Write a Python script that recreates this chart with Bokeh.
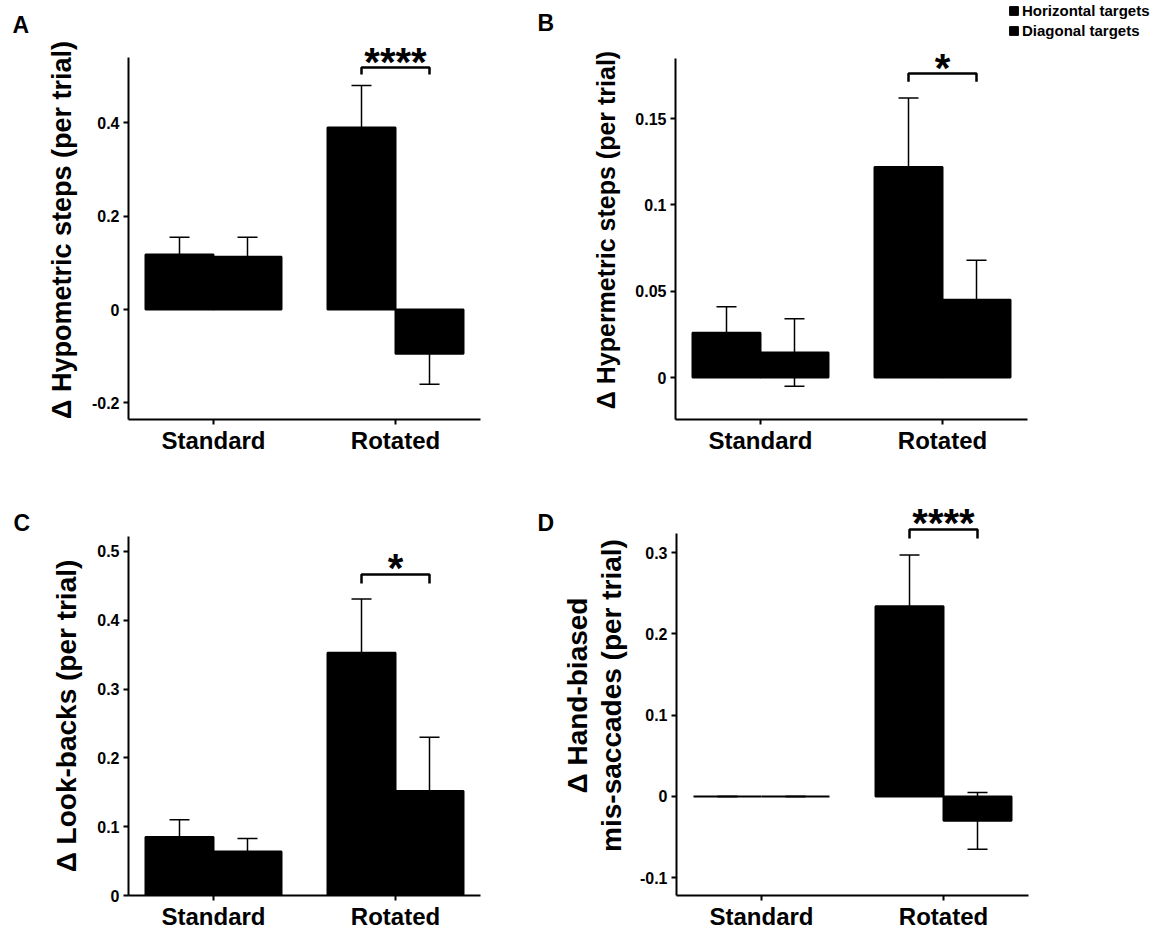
from bokeh.plotting import figure
from bokeh.models import (ColumnDataSource, Whisker, TeeHead, FixedTicker,
                          CustomJSTickFormatter, Legend, LegendItem, Range1d)
from bokeh.layouts import column, row
from bokeh.embed import file_html
from bokeh.resources import INLINE
from bokeh.core.properties import value

# ---------------- data ----------------
conditions = ["Standard", "Rotated"]
series = ["Horizontal targets", "Diagonal targets"]

hypo_h = [0.118, 0.390]
hypo_h_err = [0.037, 0.090]
hypo_d = [0.113, -0.095]
hypo_d_err = [0.042, 0.065]

hyper_h = [0.026, 0.122]
hyper_h_err = [0.015, 0.040]
hyper_d = [0.0145, 0.045]
hyper_d_err = [0.0195, 0.023]

look_h = [0.085, 0.353]
look_h_err = [0.025, 0.078]
look_d = [0.064, 0.152]
look_d_err = [0.019, 0.078]

hand_h = [0.0, 0.234]
hand_h_err = [0.0, 0.063]
hand_d = [0.0, -0.030]
hand_d_err = [0.0, 0.035]

ticks_a = [-0.2, 0, 0.2, 0.4]
ticks_b = [0, 0.05, 0.1, 0.15]
ticks_c = [0, 0.1, 0.2, 0.3, 0.4, 0.5]
ticks_d = [-0.1, 0, 0.1, 0.2, 0.3]

panel_letters = ["A", "B", "C", "D"]
y_labels = ["\u0394 Hypometric steps (per trial)",
            "\u0394 Hypermetric steps (per trial)",
            "\u0394 Look-backs (per trial)",
            "\u0394 Hand-biased\nmis-saccades (per trial)"]
sig_labels = ["****", "*", "*", "****"]

FONT = "Liberation Sans"
BAR_W = 0.3736
H_COLOR = "#000000"
D_COLOR = "#000000"
NAN = float("nan")


def no_align(p):
    try:
        p.frame_align = False
    except Exception:
        pass


def strip(width, height):
    s = figure(width=width, height=height, output_backend="svg", toolbar_location=None,
               x_range=Range1d(0, width), y_range=Range1d(height, 0),
               x_axis_type=None, y_axis_type=None,
               min_border_left=0, min_border_right=0, min_border_top=0, min_border_bottom=0)
    s.outline_line_color = None
    s.xgrid.visible = False
    s.ygrid.visible = False
    no_align(s)
    return s


def make_panel(ylabel, h, herr, d, derr, yticks, sig, lay):
    p = figure(width=lay["w"], height=lay["h"], output_backend="svg",
               toolbar_location=None, x_range=Range1d(-0.467, 1.467),
               y_range=Range1d(lay["y0"], lay["y1"]),
               min_border_left=lay["bl"], min_border_right=lay["br"],
               min_border_top=lay["bt"], min_border_bottom=lay["bb"])
    p.outline_line_color = None
    p.xgrid.visible = False
    p.ygrid.visible = False
    p.background_fill_color = "white"
    p.border_fill_color = "white"
    no_align(p)

    xs = list(range(len(conditions)))
    src_h = ColumnDataSource(dict(x=[i - BAR_W / 2 for i in xs], top=h,
                                  upper=[v + e for v, e in zip(h, herr)],
                                  lower=[v - e for v, e in zip(h, herr)]))
    src_d = ColumnDataSource(dict(x=[i + BAR_W / 2 for i in xs], top=d,
                                  upper=[v + e for v, e in zip(d, derr)],
                                  lower=[v - e for v, e in zip(d, derr)]))
    p.vbar(x="x", top="top", bottom=0, width=BAR_W, source=src_h,
           fill_color=H_COLOR, line_color="black", line_width=2)
    p.vbar(x="x", top="top", bottom=0, width=BAR_W, source=src_d,
           fill_color=D_COLOR, line_color="black", line_width=2)
    for src in (src_h, src_d):
        p.add_layout(Whisker(source=src, base="x", upper="upper", lower="lower",
                             line_color="black", line_width=1.5,
                             upper_head=TeeHead(size=20, line_width=1.5, line_color="black"),
                             lower_head=TeeHead(size=20, line_width=1.5, line_color="black")))

    # significance bracket over the Rotated pair
    xl = xs[1] - BAR_W / 2
    xr = xs[1] + BAR_W / 2
    p.line([xl, xl, xr, xr], [lay["tip"], lay["btop"], lay["btop"], lay["tip"]],
           line_color="black", line_width=2.5)
    ppu = lay["fh"] / (lay["y1"] - lay["y0"])
    p.text(x=[xs[1]], y=[lay["btop"] + 6.0 / ppu], text=[sig],
           text_align="center", text_baseline="alphabetic",
           text_font=value(FONT), text_font_style="bold",
           text_font_size="40px", text_color="black")

    # axes
    p.yaxis.ticker = FixedTicker(ticks=yticks)
    p.yaxis.formatter = CustomJSTickFormatter(
        code="return String(Math.round(tick*1000)/1000);")
    p.yaxis.bounds = (lay["y0"], lay["atop"])
    p.yaxis.axis_label = ylabel
    p.xaxis.ticker = FixedTicker(ticks=xs)
    p.xaxis.formatter = CustomJSTickFormatter(
        args=dict(names=conditions), code="return names[Math.round(tick)] || '';")
    for ax in (p.xaxis, p.yaxis):
        ax.axis_line_width = 2
        ax.axis_line_color = "black"
        ax.major_tick_line_width = 2
        ax.major_tick_line_color = "black"
        ax.major_tick_out = 5
        ax.major_tick_in = 0
        ax.minor_tick_line_color = None
        ax.major_label_text_font = FONT
        ax.major_label_text_font_style = "bold"
        ax.major_label_text_color = "black"
    p.yaxis.major_label_text_font_size = "16px"
    p.yaxis.major_label_standoff = 4
    p.yaxis.axis_label_text_font = FONT
    p.yaxis.axis_label_text_font_style = "bold"
    p.yaxis.axis_label_text_font_size = lay["lfs"]
    p.yaxis.axis_label_text_line_height = 1.1
    p.yaxis.axis_label_text_color = "black"
    p.yaxis.axis_label_standoff = lay["lso"]
    p.xaxis.major_label_text_font_size = "24px"
    p.xaxis.major_label_standoff = 2
    return p


lay_a = dict(w=530, h=425, bl=128, br=50, bt=0, bb=46, fh=379,
             y0=-0.2357, y1=0.5764, atop=0.54, btop=0.5185, tip=0.5035,
             lfs="27px", lso=12)
lay_b = dict(w=632, h=425, bl=145, br=135, bt=0, bb=46, fh=379,
             y0=-0.02433, y1=0.19525, atop=0.185, btop=0.1761, tip=0.1713,
             lfs="25px", lso=12)
lay_c = dict(w=556, h=397, bl=128, br=76, bt=0, bb=38, fh=359,
             y0=0.0, y1=0.5218, atop=0.5218, btop=0.4666, tip=0.4535,
             lfs="28px", lso=12)
lay_d = dict(w=606, h=468, bl=120, br=134, bt=30, bb=38, fh=400,
             y0=-0.1218, y1=0.3702, atop=0.3235, btop=0.3284, tip=0.3173,
             lfs="28px", lso=10)

pa = make_panel(y_labels[0], hypo_h, hypo_h_err, hypo_d, hypo_d_err, ticks_a, sig_labels[0], lay_a)
pb = make_panel(y_labels[1], hyper_h, hyper_h_err, hyper_d, hyper_d_err, ticks_b, sig_labels[1], lay_b)
pc = make_panel(y_labels[2], look_h, look_h_err, look_d, look_d_err, ticks_c, sig_labels[2], lay_c)
pd = make_panel(y_labels[3], hand_h, hand_h_err, hand_d, hand_d_err, ticks_d, sig_labels[3], lay_d)

# top strip: panel letters A, B and the series legend
top = strip(1162, 40)
top.text(x=[12, 537], y=[24, 22], text=panel_letters[:2], text_baseline="middle",
         text_font=value(FONT), text_font_style="bold", text_font_size="23px",
         text_color="black")
key_h = top.vbar(x=[NAN], top=[NAN], width=1, fill_color=H_COLOR, line_color="black")
key_d = top.vbar(x=[NAN], top=[NAN], width=1, fill_color=D_COLOR, line_color="black")
lg = Legend(items=[LegendItem(label=series[0], renderers=[key_h]),
                   LegendItem(label=series[1], renderers=[key_d])],
            location=(1008, 1), glyph_width=11, glyph_height=11,
            label_height=14, label_standoff=3, spacing=3, padding=0,
            margin=0, border_line_color=None, background_fill_alpha=0,
            label_text_font=FONT, label_text_font_style="bold",
            label_text_font_size="15px", label_text_color="black")
top.add_layout(lg)

# strip above panel C: letters C and D
mid = strip(556, 71)
mid.text(x=[13, 537], y=[57, 57], text=panel_letters[2:], text_baseline="middle",
         text_font=value(FONT), text_font_style="bold", text_font_size="23px",
         text_color="black")

layout = column(top, row(pa, pb), row(column(mid, pc), pd))
open("out.html", "w").write(file_html(layout, INLINE))
